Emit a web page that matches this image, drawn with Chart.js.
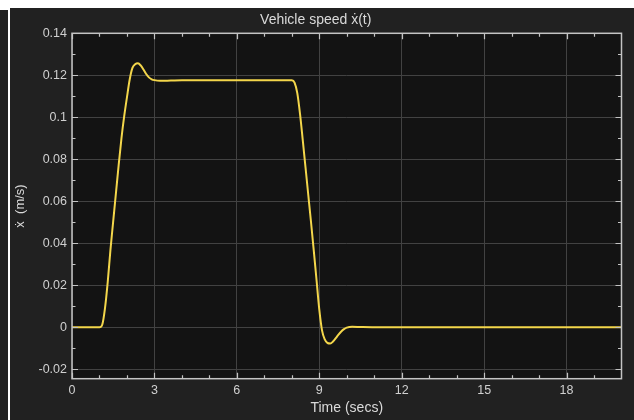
<!DOCTYPE html>
<html>
<head>
<meta charset="utf-8">
<script src="https://cdn.jsdelivr.net/npm/chart.js@4.4.1/dist/chart.umd.min.js"></script>
<style>
  html, body { margin: 0; padding: 0; background: #ffffff; width: 634px; height: 420px; overflow: hidden; }
  #side { position: absolute; left: 0; top: 10px; width: 8px; height: 410px; background: #222222; }
  #panel { position: absolute; left: 10px; top: 8px; width: 624px; height: 412px; background: #212121; }
  #panel canvas { display: block; }
</style>
</head>
<body>
<div id="side"></div>
<div id="panel"><canvas id="c" width="624" height="412"></canvas></div>
<script>
// Simulated time (s) and vehicle speed (m/s)
const timeSecs = [0, 0.5, 1.0, 1.1, 1.2, 1.3, 1.4, 1.5, 1.6, 1.7, 1.8, 1.9, 2.0, 2.1, 2.2, 2.3, 2.4, 2.5, 2.6, 2.7, 2.8, 2.9, 3.0, 3.2, 3.6, 4.0, 5.0, 6.0, 7.0,
  8.0, 8.1, 8.2, 8.3, 8.4, 8.5, 8.6, 8.7, 8.8, 8.9, 9.0, 9.1, 9.2, 9.3, 9.4, 9.5, 9.6, 9.7, 9.8, 9.9, 10.0, 10.2, 10.5, 11, 12, 14, 16, 18, 20];
const speed = [0, 0, 0, 0.0012, 0.009, 0.0215, 0.037, 0.0505, 0.064, 0.0775, 0.090, 0.1005, 0.1095, 0.118, 0.1235, 0.1253, 0.1257, 0.1247, 0.1228, 0.1206, 0.119, 0.1181, 0.1177, 0.1174, 0.1175, 0.1176, 0.1176, 0.1176, 0.1176,
  0.1176, 0.1165, 0.1115, 0.1015, 0.089, 0.076, 0.063, 0.050, 0.0365, 0.0225, 0.0085, -0.0015, -0.0058, -0.0075, -0.0077, -0.0068, -0.0052, -0.0035, -0.002, -0.0009, -0.0002, 0.0002, 0.0001, 0, 0, 0, 0, 0, 0];

const xTicks = [0, 3, 6, 9, 12, 15, 18];
const yTicks = [-0.02, 0, 0.02, 0.04, 0.06, 0.08, 0.1, 0.12, 0.14];
const xMinor = [1, 2, 4, 5, 7, 8, 10, 11, 13, 14, 16, 17, 19];
const yMinor = [-0.01, 0.01, 0.03, 0.05, 0.07, 0.09, 0.11, 0.13];

const FONT = '"Liberation Sans", Arial, Helvetica, sans-serif';
const TEXT = '#d0d0d0';
const AXIS = '#c4c4c4';
const GRID = '#424242';

// Plot background, axes box and inward tick marks on all four sides
const scopeFrame = {
  id: 'scopeFrame',
  beforeDraw(chart) {
    const a = chart.chartArea, ctx = chart.ctx;
    ctx.save();
    ctx.fillStyle = '#131313';
    ctx.fillRect(a.left, a.top, a.right - a.left, a.bottom - a.top);
    ctx.restore();
  },
  afterDatasetsDraw(chart) {
    const a = chart.chartArea, ctx = chart.ctx;
    const xs = chart.scales.x, ys = chart.scales.y;
    ctx.save();
    ctx.strokeStyle = AXIS;
    ctx.lineWidth = 1.5;
    ctx.strokeRect(a.left, a.top, a.right - a.left, a.bottom - a.top);
    ctx.lineWidth = 1.2;
    ctx.beginPath();
    const vt = (v, len) => {
      const p = Math.round(xs.getPixelForValue(v)) + 0.5;
      ctx.moveTo(p, a.bottom); ctx.lineTo(p, a.bottom - len);
      ctx.moveTo(p, a.top); ctx.lineTo(p, a.top + len);
    };
    const ht = (v, len) => {
      const p = Math.round(ys.getPixelForValue(v)) + 0.5;
      ctx.moveTo(a.left, p); ctx.lineTo(a.left + len, p);
      ctx.moveTo(a.right, p); ctx.lineTo(a.right - len, p);
    };
    xTicks.forEach(v => vt(v, 6));
    xMinor.forEach(v => vt(v, 3.5));
    yTicks.forEach(v => ht(v, 6));
    yMinor.forEach(v => ht(v, 3.5));
    ctx.stroke();
    ctx.restore();
  }
};

new Chart(document.getElementById('c'), {
  type: 'line',
  data: {
    datasets: [{
      data: timeSecs.map((t, i) => ({ x: t, y: speed[i] })),
      borderColor: '#f3d64b',
      borderWidth: 2,
      pointRadius: 0,
      cubicInterpolationMode: 'monotone',
      fill: false
    }]
  },
  options: {
    responsive: false,
    animation: false,
    events: [],
    layout: { padding: { left: 0, right: 12.5, top: 0, bottom: 0 } },
    plugins: {
      legend: { display: false },
      tooltip: { enabled: false },
      title: {
        display: true,
        text: 'Vehicle speed x\u0307(t)',
        color: '#dadada',
        font: { family: FONT, size: 14, weight: 'normal' },
        padding: { top: 4, bottom: 4.5 }
      }
    },
    scales: {
      x: {
        type: 'linear',
        min: 0,
        max: 20,
        afterBuildTicks: s => { s.ticks = xTicks.map(v => ({ value: v })); },
        afterFit: s => { s.height = 41.3; },
        grid: { color: GRID, lineWidth: 1, drawTicks: false },
        border: { display: false },
        ticks: { color: TEXT, font: { family: FONT, size: 12.5 }, padding: 4, maxRotation: 0 },
        title: {
          display: true,
          text: 'Time (secs)',
          color: '#dadada',
          font: { family: FONT, size: 14 },
          padding: { top: 0, bottom: 3 }
        }
      },
      y: {
        type: 'linear',
        min: -0.0245,
        max: 0.14,
        afterBuildTicks: s => { s.ticks = yTicks.map(v => ({ value: v })); },
        afterFit: s => { s.width = 62; },
        grid: { color: GRID, lineWidth: 1, drawTicks: false },
        border: { display: false },
        ticks: {
          color: TEXT,
          font: { family: FONT, size: 12.5 },
          padding: 5,
          callback: v => String(parseFloat(v.toFixed(4)))
        },
        title: {
          display: true,
          text: 'x\u0307  (m/s)',
          color: '#dadada',
          font: { family: FONT, size: 13 },
          padding: { top: 3, bottom: 0 }
        }
      }
    }
  },
  plugins: [scopeFrame]
});
</script>
</body>
</html>
